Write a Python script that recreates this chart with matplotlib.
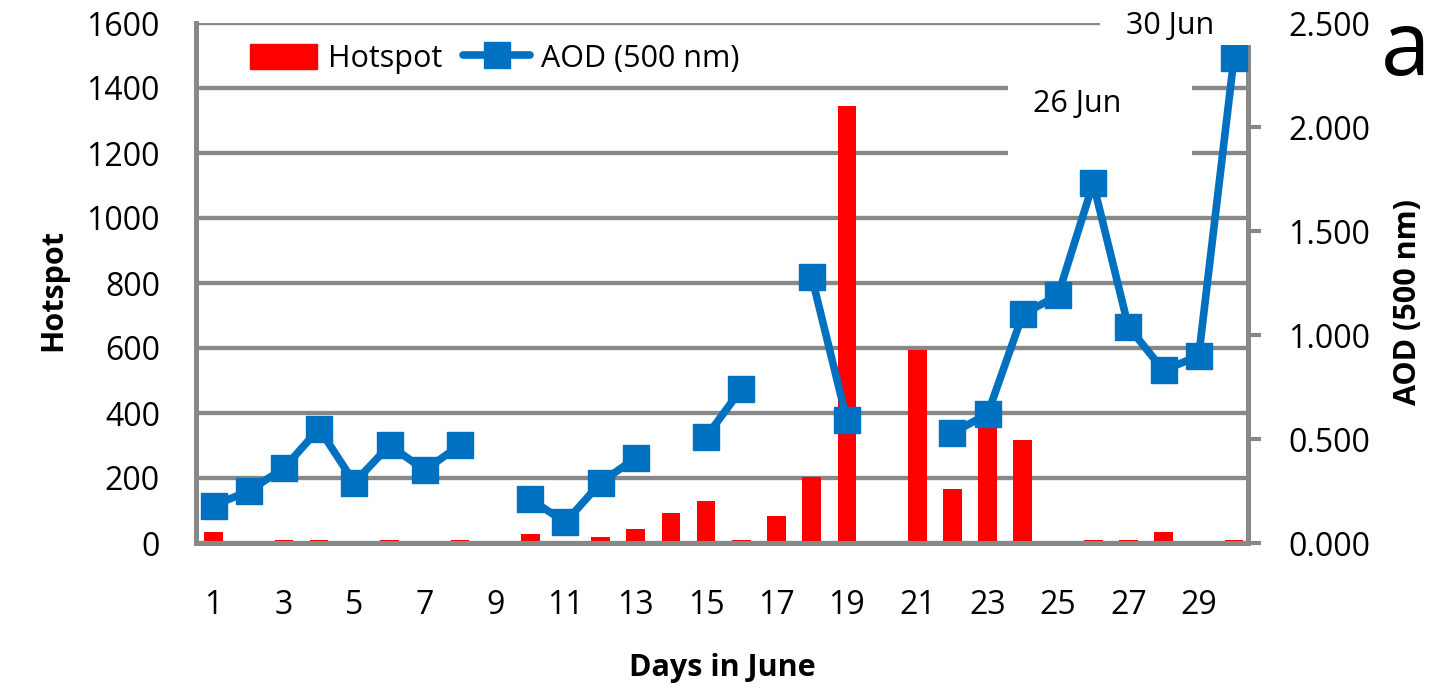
import numpy as np
import matplotlib
matplotlib.use("Agg")
import matplotlib.pyplot as plt
from matplotlib.patches import Rectangle, Patch
from matplotlib.lines import Line2D

plt.rcParams['font.family'] = ['Open Sans', 'DejaVu Sans']

days = np.arange(1, 31)
hotspot = [34, 0, 10, 10, 0, 10, 0, 10, 0, 29,
           0, 20, 44, 92, 129, 10, 83, 203, 1345, 0,
           595, 167, 400, 316, 0, 10, 10, 33, 0, 10]
aod = [0.18, 0.25, 0.36, 0.55, 0.29, 0.47, 0.35, 0.47, np.nan, 0.21,
       0.10, 0.29, 0.41, np.nan, 0.51, 0.74, np.nan, 1.28, 0.59, np.nan,
       np.nan, 0.53, 0.62, 1.10, 1.19, 1.73, 1.04, 0.83, 0.90, 2.33]
xticks = list(range(1, 30, 2))

red = '#FF0000'
blue = '#0070C0'
gray = '#888888'
fs = 23      # tick labels
fs_leg = 22  # legend and date notes
fs_lab = 22  # axis titles

fig = plt.figure(figsize=(14.41, 6.91), dpi=100)
ax = fig.add_axes([196/1441, 1-543/691, 1052/1441, 520/691])
ax2 = ax.twinx()

ax.bar(days, hotspot, width=0.53, color=red, zorder=2)
ax.set_xlim(0.5, 30.4)
ax.set_ylim(0, 1600)
ax.set_yticks(range(0, 1601, 200))
ax.set_xticks(xticks)
ax.grid(axis='y', color=gray, lw=3.1)
ax.set_axisbelow(True)
ax.tick_params(axis='y', length=0, pad=26, labelsize=fs)
ax.tick_params(axis='x', length=0, pad=33, labelsize=fs)
for s in ['top', 'right']:
    ax.spines[s].set_visible(False)
for s in ['left', 'bottom']:
    ax.spines[s].set_color(gray)
    ax.spines[s].set_linewidth(3.6)

ax2.plot(days, aod, color=blue, lw=5.5, marker='s', markersize=19,
         solid_capstyle='round', zorder=3)
ax2.set_ylim(0, 2.5)
ax2.set_yticks(np.arange(0, 2.51, 0.5))
ax2.set_yticklabels(['%.3f' % v for v in np.arange(0, 2.51, 0.5)])
ax2.tick_params(axis='y', direction='out', length=9, width=3, color=gray,
                pad=20, labelsize=fs)
for s in ['top', 'left', 'bottom']:
    ax2.spines[s].set_visible(False)
ax2.spines['right'].set_color(gray)
ax2.spines['right'].set_linewidth(3.6)

ax.set_ylabel('Hotspot', fontsize=fs_lab, fontweight='bold')
ax.yaxis.set_label_coords(-0.1217, 0.4865)
ax2.set_ylabel('AOD (500 nm)', fontsize=fs_lab, fontweight='bold')
ax2.yaxis.set_label_coords(1.138, 0.4635)
ax.set_xlabel('Days in June', fontsize=fs_lab, fontweight='bold')
ax.xaxis.set_label_coords(0.5, -0.212)

# white boxes behind the date notes
ax2.add_patch(Rectangle((0.859, 0.958), 0.16, 0.1, transform=ax2.transAxes,
                        facecolor='white', edgecolor='none', clip_on=False, zorder=5))
ax2.add_patch(Rectangle((0.772, 0.727), 0.175, 0.2, transform=ax2.transAxes,
                        facecolor='white', edgecolor='none', clip_on=False, zorder=5))
ax2.text(0.926, 0.994, '30 Jun', transform=ax2.transAxes, fontsize=fs_leg,
         ha='center', va='center', zorder=6)
ax2.text(0.838, 0.845, '26 Jun', transform=ax2.transAxes, fontsize=fs_leg,
         ha='center', va='center', zorder=6)

handles = [Patch(color=red),
           Line2D([], [], color=blue, lw=5.5, marker='s', markersize=19,
                  solid_capstyle='round')]
ax2.legend(handles, ['Hotspot', 'AOD (500 nm)'], ncol=2, frameon=False,
           fontsize=fs_leg, loc='center left', bbox_to_anchor=(0.051, 0.931),
           borderpad=0, borderaxespad=0, handlelength=2.2, handleheight=0.9,
           handletextpad=0.35, columnspacing=0.7)

fig.text(1406/1441, 1-75/691, 'a', fontsize=64, ha='center', va='baseline')

fig.savefig('out.png', dpi=100, facecolor='white')
